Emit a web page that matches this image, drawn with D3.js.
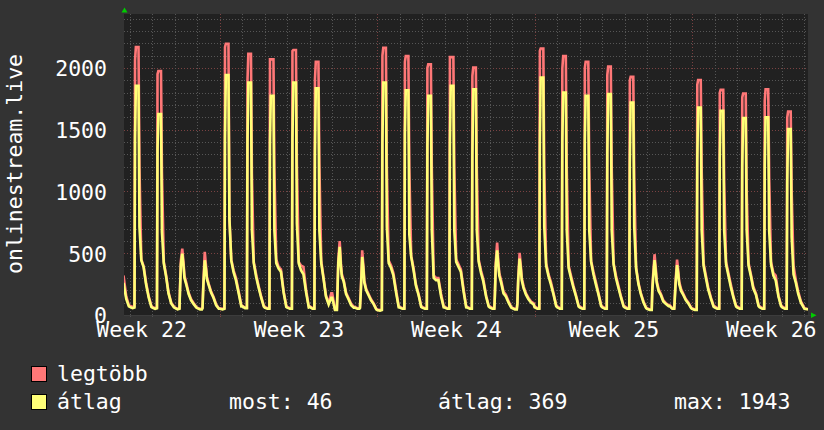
<!DOCTYPE html>
<html><head><meta charset="utf-8">
<script src="https://cdn.jsdelivr.net/npm/d3@7"></script>
<style>
html,body{margin:0;padding:0;background:#333333;}
svg{display:block;}
text{font-family:"DejaVu Sans Mono",monospace;fill:#ffffff;}
</style></head><body>
<svg id="chart" width="824" height="430"></svg>
<script>
// ---------------- data ----------------
const yTitle = "onlinestream.live";
const timeDomain = [new Date(2024, 4, 29, 17, 49), new Date(2024, 5, 29, 3, 45)];
const firstDay = new Date(2024, 4, 29);           // first row below = Wed 29 May
const yMax = 2437;
const yTickValues = [0, 500, 1000, 1500, 2000];
const weekLabelPrefix = "Week ";
// hours of the day at which each row's values were read
const sampleHours = [0, 3, 5, 5.6, 6.5, 8, 9.3, 10.3, 12.3, 14.8, 17.3, 20.2, 23];
const N = null;
// "legtöbb" (maximum) per day
const legtobb = [
  [N,N,N,N,N,N,N,N,N,N,320,150,80],                  // 05-29 Wed
  [75,65,70,2062,2169,2169,2169,1196,450,395,265,150,75],   // 05-30 Thu
  [65,55,60,1949,1976,1976,1976,1156,430,320,185,100,70],   // 05-31 Fri
  [62,50,55,230,440,538,430,320,260,180,130,95,65],        // 06-01 Sat
  [60,50,50,60,260,511,400,310,250,190,148,85,55],         // 06-02 Sun
  [55,50,55,2169,2196,2196,2196,790,450,360,300,190,80],   // 06-03 Mon
  [75,60,60,1900,2115,2115,2115,1142,430,330,240,150,75],  // 06-04 Tue
  [65,55,55,2070,2070,2070,2070,1183,450,390,370,190,75],  // 06-05 Wed
  [65,55,55,2137,2145,2145,2145,1223,430,400,390,200,70],  // 06-06 Thu
  [70,55,55,1909,2051,2051,2051,1223,440,300,160,94,175],  // 06-07 Fri
  [175,45,45,200,450,599,420,330,280,180,140,90,67],       // 06-08 Sat
  [65,55,55,60,200,524,400,280,210,170,130,95,50],         // 06-09 Sun
  [45,40,45,2100,2164,2164,2164,1196,440,400,340,200,70],  // 06-10 Mon
  [65,55,55,2050,2096,2096,2096,1183,480,380,250,170,70],  // 06-11 Tue
  [65,55,55,2000,2029,2029,2029,1183,320,300,300,170,70],  // 06-12 Wed
  [65,55,55,2088,2088,2088,2088,1196,450,410,370,210,70],  // 06-13 Thu
  [65,55,55,1936,2003,2003,2003,1183,450,360,290,160,75],  // 06-14 Fri
  [70,55,55,175,420,586,430,340,280,190,165,110,67],       // 06-15 Sat
  [60,50,50,100,300,503,400,300,230,175,140,110,94],       // 06-16 Sun
  [70,55,55,2137,2158,2158,2158,1183,420,330,270,175,80],  // 06-17 Mon
  [70,55,55,1997,2096,2096,2096,1183,400,320,240,160,75],  // 06-18 Tue
  [70,55,55,2000,2051,2051,2051,1183,440,350,270,175,80],  // 06-19 Wed
  [70,55,55,1944,2011,2011,2011,1183,420,320,240,150,75],  // 06-20 Thu
  [70,55,55,1900,1928,1928,1928,1116,390,260,180,110,60],  // 06-21 Fri
  [55,45,45,220,330,492,380,280,210,170,120,94,80],        // 06-22 Sat
  [80,55,55,150,280,449,360,270,210,170,130,100,60],       // 06-23 Sun
  [55,45,45,1863,1903,1903,1903,1169,420,320,220,140,75],  // 06-24 Mon
  [70,55,55,1800,1823,1823,1823,1075,430,340,250,150,75],  // 06-25 Tue
  [70,55,55,1761,1793,1793,1793,1008,420,330,230,175,80],  // 06-26 Wed
  [70,55,55,1734,1828,1828,1828,1116,430,340,320,160,80],  // 06-27 Thu
  [70,55,55,1599,1648,1648,1648,1008,400,280,190,110,70],  // 06-28 Fri
  [55,48,48,N,N,N,N,N,N,N,N,N,N]                     // 06-29 Sat
];
// "átlag" (average) per day
const atlag = [
  [N,N,N,N,N,N,N,N,N,N,260,130,70],
  [65,55,60,1425,1855,1855,1855,712,443,385,250,140,65],
  [60,50,55,1344,1626,1626,1626,672,417,309,175,94,62],
  [58,45,50,200,410,497,400,300,245,170,120,88,60],
  [55,45,45,55,240,443,370,290,240,180,140,78,50],
  [50,45,50,1425,1943,1943,1943,780,440,345,280,175,70],
  [70,55,55,1400,1882,1882,1882,690,420,309,228,140,68],
  [60,50,50,1384,1774,1774,1774,685,420,376,350,180,65],
  [60,50,50,1425,1882,1882,1882,739,417,360,330,180,62],
  [65,50,50,1304,1836,1836,1836,685,420,290,150,85,140],
  [140,40,40,180,420,551,390,310,270,170,130,80,60],
  [60,50,50,55,180,470,370,260,200,160,120,88,45],
  [40,35,40,1398,1882,1882,1882,712,420,380,320,180,62],
  [60,50,50,1465,1820,1820,1820,650,470,363,240,160,65],
  [60,50,50,1371,1774,1774,1774,685,300,282,282,150,62],
  [60,50,50,1371,1855,1855,1855,685,430,390,350,190,62],
  [60,50,50,1290,1828,1828,1828,685,430,340,270,150,68],
  [62,50,50,150,390,524,400,320,260,175,150,100,60],
  [55,45,45,90,280,457,370,280,215,165,130,100,85],
  [62,50,50,1384,1922,1922,1922,712,400,315,250,165,72],
  [62,50,50,1411,1801,1801,1801,685,380,300,225,150,68],
  [62,50,50,1398,1774,1774,1774,685,430,330,250,165,72],
  [62,50,50,1317,1788,1788,1788,685,410,300,225,140,68],
  [62,50,50,1223,1720,1720,1720,712,376,250,170,100,55],
  [50,40,40,200,300,444,350,260,195,160,110,88,72],
  [72,50,50,130,260,403,330,250,195,160,120,92,55],
  [50,40,40,1250,1680,1680,1680,685,400,300,205,130,68],
  [62,50,50,1263,1653,1653,1653,685,410,320,230,140,68],
  [62,50,50,1210,1594,1594,1594,685,400,315,215,165,72],
  [62,50,50,1196,1600,1600,1600,685,410,320,280,150,72],
  [62,50,50,1081,1505,1505,1505,632,330,260,170,100,62],
  [50,46,46,N,N,N,N,N,N,N,N,N,N]
];
const seriesNames = ["legtöbb", "átlag"];
const seriesColors = ["#ff7777", "#ffff77"];
const statLabels = ["most: 46", "átlag: 369", "max: 1943"];

// ---------------- drawing ----------------
const svg = d3.select("#chart");
const P = {left: 124, right: 808, top: 14, bottom: 315};
const FS = 21.5;
const x = d3.scaleTime().domain(timeDomain).range([P.left, P.right]);
const y = d3.scaleLinear().domain([0, yMax]).range([P.bottom, P.top]);

svg.append("rect").attr("width", 824).attr("height", 430).attr("fill", "#333333");
svg.append("rect").attr("x", P.left).attr("y", P.top)
  .attr("width", P.right - P.left).attr("height", P.bottom - P.top).attr("fill", "#212121");

// grid
const grid = svg.append("g").attr("shape-rendering", "crispEdges");
const minorC = "#565656", majorC = "#7a4242";
d3.range(100, yMax, 100).forEach(v => {
  const yy = Math.round(y(v)) + 0.5;
  grid.append("line").attr("x1", P.left).attr("x2", P.right).attr("y1", yy).attr("y2", yy)
    .attr("stroke", v % 500 === 0 ? majorC : minorC).attr("stroke-dasharray", "1,2");
});
d3.timeDay.range(d3.timeDay.ceil(timeDomain[0]), timeDomain[1]).forEach(d => {
  const xx = Math.round(x(d)) + 0.5;
  const major = d.getDay() === 1;
  grid.append("line").attr("x1", xx).attr("x2", xx).attr("y1", P.top).attr("y2", P.bottom)
    .attr("stroke", major ? majorC : minorC).attr("stroke-dasharray", "1,2");
  grid.append("line").attr("x1", xx).attr("x2", xx).attr("y1", P.bottom).attr("y2", P.bottom + 2)
    .attr("stroke", major ? "#884444" : "#505050");
});
// axis line
svg.append("line").attr("x1", P.left).attr("x2", 811).attr("y1", P.bottom + 0.5).attr("y2", P.bottom + 0.5)
  .attr("stroke", "#3c3c3c").attr("shape-rendering", "crispEdges");

// series
function toPoints(rows) {
  const pts = [];
  rows.forEach((row, i) => {
    const day = d3.timeDay.offset(firstDay, i);
    row.forEach((v, j) => pts.push({t: new Date(+day + sampleHours[j] * 3600000), v}));
  });
  return pts;
}
svg.append("clipPath").attr("id", "clip").append("rect")
  .attr("x", P.left).attr("y", P.top - 4).attr("width", P.right - P.left).attr("height", P.bottom - P.top + 4);
const line = d3.line().defined(d => d.v !== null).x(d => x(d.t)).y(d => y(d.v));
[legtobb, atlag].forEach((rows, k) => {
  svg.append("path").datum(toPoints(rows)).attr("clip-path", "url(#clip)")
    .attr("fill", "none").attr("stroke", seriesColors[k]).attr("stroke-width", 2.6)
    .attr("stroke-linejoin", "miter").attr("stroke-miterlimit", 3).attr("d", line);
});

// axes
const yAxis = svg.append("g").attr("transform", `translate(${P.left},0)`)
  .call(d3.axisLeft(y).tickValues(yTickValues).tickSize(0).tickPadding(17).tickFormat(d3.format("d")));
yAxis.select(".domain").remove();
yAxis.selectAll("text").attr("font-size", FS).attr("dy", "0.37em").attr("fill", "#ffffff")
  .attr("font-family", "DejaVu Sans Mono");

const weekMids = d3.timeMonday.range(d3.timeMonday.floor(timeDomain[0]), timeDomain[1])
  .map(m => new Date(+m + 3.5 * 86400000));
const xAxis = svg.append("g").attr("transform", `translate(0,${P.bottom})`)
  .call(d3.axisBottom(x).tickValues(weekMids).tickSize(0).tickPadding(7)
    .tickFormat(d => weekLabelPrefix + d3.timeFormat("%V")(d)));
xAxis.select(".domain").remove();
xAxis.selectAll("text").attr("font-size", FS).attr("fill", "#ffffff").attr("font-family", "DejaVu Sans Mono");

// arrows
svg.append("path").attr("d", "M121.5,12.5 L127.5,12.5 L124.5,7.5 Z").attr("fill", "#00cc00");
svg.append("path").attr("d", "M811,312.5 L811,318 L816.5,315.2 Z").attr("fill", "#00cc00");

// y title
svg.append("text").attr("transform", "translate(21.5,164) rotate(-90)")
  .attr("text-anchor", "middle").attr("font-size", FS).text(yTitle);

// legend
const legY = [381, 409];
seriesNames.forEach((name, i) => {
  svg.append("rect").attr("x", 31.5).attr("y", legY[i] - 14.5).attr("width", 15).attr("height", 15)
    .attr("fill", seriesColors[i]).attr("stroke", "#000000").attr("stroke-width", 1);
  svg.append("text").attr("x", 57).attr("y", legY[i]).attr("font-size", FS).text(name);
});
const statX = [229, 438, 674];
statLabels.forEach((s, i) => {
  svg.append("text").attr("x", statX[i]).attr("y", legY[1]).attr("font-size", FS).text(s);
});
</script>
</body></html>
